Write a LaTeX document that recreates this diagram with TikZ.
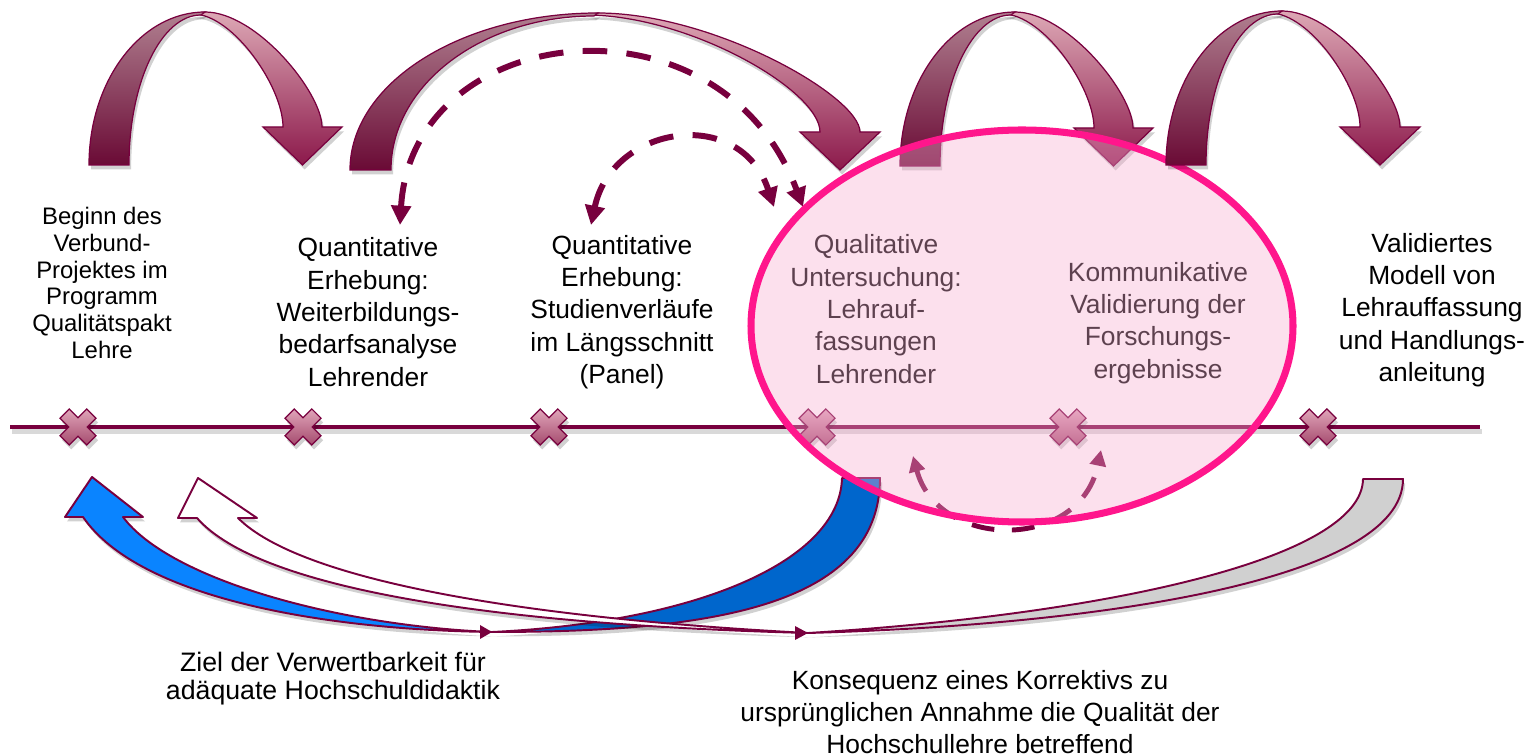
\documentclass[tikz,border=0pt]{standalone}
\usepackage{fontspec}
\setmainfont{Liberation Sans}
\usetikzlibrary{arrows.meta,shadows}
\definecolor{maroon}{RGB}{120,0,62}
\definecolor{arrLtop}{RGB}{176,128,144}
\definecolor{arrLbot}{RGB}{106,10,53}
\definecolor{arrRtop}{RGB}{221,168,181}
\definecolor{arrRbot}{RGB}{140,25,75}
\definecolor{xtop}{RGB}{224,165,185}
\definecolor{xbot}{RGB}{165,75,110}
\definecolor{blueL}{RGB}{10,132,255}
\definecolor{blueR}{RGB}{0,102,204}
\definecolor{grayfill}{RGB}{208,208,208}
\definecolor{ovl}{RGB}{247,173,209}
\definecolor{hotpink}{RGB}{255,22,140}
\newcommand\TopArrow[9]{%
  \pgfmathsetmacro\tipx{(#6+#7)/2}%
  \path[righthalf] (#4,#5) .. controls ({#4+0.44*(#7-#4)},#5) and (#7,{#8-0.3*(#8-#5)}) .. (#7,#8) -- ({#7+#9},#8) -- (\tipx,#3) -- ({#6-#9},#8) -- (#6,#8) .. controls (#6,{#8-0.35*(#8-#5)}) and ({#4-12+0.44*(#6-#4+12)},{#5+2}) .. ({#4-12},{#5+2}) -- cycle;
  \path[lefthalf] (#1,#3) .. controls (#1,{#3-0.552*(#3-#5)}) and ({#4-0.552*(#4-#1)},#5) .. (#4,#5) -- ({#4-4},{#5+3}) .. controls ({#4-4-0.552*(#4-4-#2)},{#5+3}) and (#2,{#3-0.552*(#3-#5-3)}) .. (#2,#3) -- cycle;
}
\tikzset{
  softshadow/.style={drop shadow={shadow xshift=1.2pt, shadow yshift=-2.5pt, opacity=0.18, fill=black}},
  lefthalf/.style={softshadow, draw=maroon, line width=0.7pt, top color=arrLtop, bottom color=arrLbot},
  righthalf/.style={softshadow, draw=maroon, line width=0.7pt, top color=arrRtop, bottom color=arrRbot},
  xmarker/.style={softshadow, draw=maroon, line width=0.7pt, top color=xtop, bottom color=xbot},
  timeline/.style={draw=maroon, line width=2.8pt},
  dasharc/.style={draw=maroon, line width=3.4pt, dash pattern=on 14pt off 11pt,
     {Triangle[length=11pt,width=11pt]}-{Triangle[length=11pt,width=11pt]}},
  smallarc/.style={draw=maroon, line width=2.8pt, dash pattern=on 13pt off 10pt,
     {Triangle[length=9pt,width=9pt]}-{Triangle[length=9pt,width=9pt]}},
  bandedge/.style={softshadow, draw=maroon, line width=1.1pt, line join=round},
  lbl/.style={align=center, inner sep=0pt, text=black, font=\fontsize{15}{18.4}\selectfont},
  lblsmall/.style={align=center, inner sep=0pt, text=black, font=\fontsize{13.6}{15.3}\selectfont},
  xmk/.pic={\path[xmarker] (26.1:20.08) -- (63.9:20.08) -- (90:9.19) -- (116.1:20.08) -- (153.9:20.08) -- (180:9.19) -- (206.1:20.08) -- (243.9:20.08) -- (270:9.19) -- (296.1:20.08) -- (333.9:20.08) -- (0:9.19) -- cycle;}
}
\begin{document}
\begin{tikzpicture}[x=0.02cm,y=-0.02cm]
\useasboundingbox (0,0) rectangle (1532,756);

% top curved arrows
\TopArrow{89}{129}{165}{205}{12}{283}{322}{127}{20}
\TopArrow{350}{391}{170}{598}{13}{820}{860}{132}{20}
\TopArrow{900}{940}{166}{1015}{12}{1094}{1133}{128}{20}

% dashed arcs
\coordinate (d1a) at (400,225);
\coordinate (d1b) at (803,207);
\coordinate (d2a) at (591,225);
\coordinate (d2b) at (774,207);
\draw[dasharc] (d1a) .. controls (412,20) and (720,-15) .. (d1b);
\draw[dasharc] (d2a) .. controls (612,125) and (740,105) .. (d2b);

% timeline
\coordinate (tl0) at (10,427);
\coordinate (tl1) at (1480,427);
\draw[black, opacity=0.15, line width=2.8pt] ([xshift=1pt,yshift=-2.5pt]tl0) -- ([xshift=1pt,yshift=-2.5pt]tl1);
\draw[timeline] (tl0) -- (tl1);
\coordinate (m1) at (78,427);
\coordinate (m2) at (303,427);
\coordinate (m3) at (549,427);
\coordinate (m4) at (817,427);
\coordinate (m5) at (1068,427);
\coordinate (m6) at (1318,427);
\foreach \m in {m1,m2,m3,m4,m5,m6} \pic at (\m) {xmk};

% labels
\node[lblsmall] (n1) at (102,283) {Beginn des\\Verbund-\\Projektes im\\Programm\\Qualitätspakt\\Lehre};
\node[lbl] (n2) at (368,312) {Quantitative\\Erhebung:\\Weiterbildungs-\\bedarfsanalyse\\Lehrender};
\node[lbl] (n3) at (622,312) {Quantitative\\Erhebung:\\Studienverläufe\\im Längsschnitt\\(Panel)};
\node[lbl] (n4) at (876,309) {Qualitative\\Untersuchung:\\Lehrauf-\\fassungen\\Lehrender};
\node[lbl] (n5) at (1158,323) {Kommunikative\\Validierung der\\Forschungs-\\ergebnisse};
\node[lbl] (n6) at (1432,310) {Validiertes\\Modell von\\Lehrauffassung\\und Handlungs-\\anleitung};
\node[lbl, font=\fontsize{15.2}{15.9}\selectfont] (b1) at (333,679) {Ziel der Verwertbarkeit für\\adäquate Hochschuldidaktik};
\node[lbl, font=\fontsize{15}{18.1}\selectfont] (b2) at (980,712) {Konsequenz eines Korrektivs zu\\ursprünglichen Annahme die Qualität der\\Hochschullehre betreffend};

% bottom curved arrows
\coordinate (tw1) at (492,632);
\coordinate (tw2) at (808,633);
\path[bandedge, fill=blueR] (tw1) .. controls (700,632) and (880,610) .. (880,478) -- (842,478) .. controls (840,560) and (700,622) .. (tw1) -- cycle;
\path[bandedge, fill=blueL] (tw1) .. controls (330,630) and (140,600) .. (83,517) -- (65,517) -- (92,477) -- (143,517) -- (123,517) .. controls (170,580) and (340,626) .. (tw1) -- cycle;
\fill[maroon] (480,625) -- (tw1) -- (480,639) -- cycle;
\path[bandedge, fill=grayfill] (tw2) .. controls (1100,625) and (1403,580) .. (1403,479) -- (1363,479) .. controls (1362,560) and (1100,615) .. (tw2) -- cycle;
\path[bandedge, fill=white] (tw2) .. controls (500,625) and (260,590) .. (197,518) -- (178,518) -- (198,478) -- (257,518) -- (238,518) .. controls (300,580) and (520,618) .. (tw2) -- cycle;
\fill[maroon] (795,626) -- (tw2) -- (795,640) -- cycle;

% small dashed arc
\coordinate (s1) at (913,456);
\coordinate (s2) at (1101,450);
\draw[smallarc] (s1) .. controls (938,550) and (1080,552) .. (s2);

% ellipse overlay
\path[fill=ovl, fill opacity=0.38] (1022,326) ellipse [x radius=271, y radius=196];
\draw[hotpink, line width=4pt] (1022,326) ellipse [x radius=271, y radius=196];

% last top arrow (over ellipse)
\TopArrow{1166}{1206}{165}{1282}{11}{1360}{1400}{127}{20}
\end{tikzpicture}
\end{document}
